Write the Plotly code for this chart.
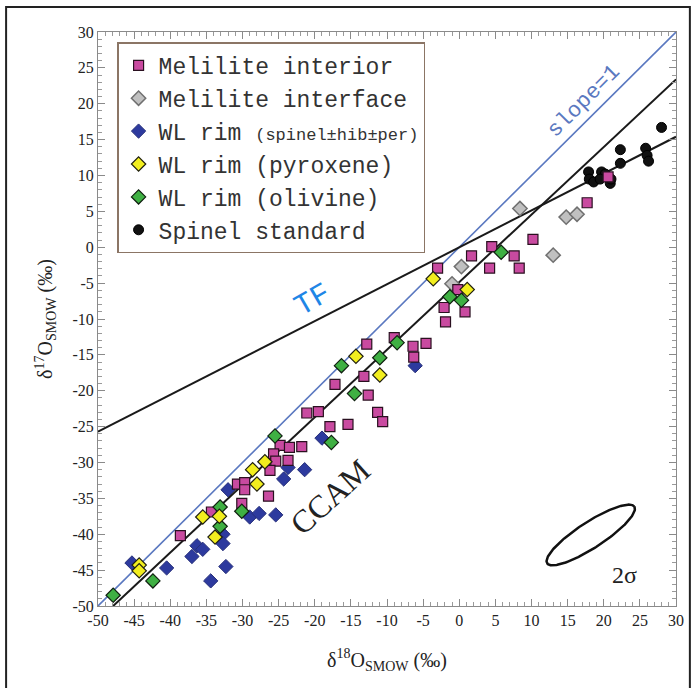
import numpy as np
import plotly.graph_objects as go

# ---------------- data ----------------
mel_int_x = [17.7, 10.2, 4.5, 1.7, 7.6, 4.2, 8.3, -3.0, -0.2, -2.1, 0.8, -1.9, -9.0, -6.4, -4.6, -6.3,
             -12.8, -13.2, -17.2, -12.6, -21.1, -19.5, -11.3, -10.6, -15.4, -17.9, -24.8, -23.5, -21.8,
             -25.7, -25.4, -23.7, -26.2, -30.7, -29.7, -29.7, -26.4, -30.1, -34.3, -38.6, 20.6]
mel_int_y = [6.2, 1.1, 0.1, -1.2, -1.2, -2.9, -2.9, -2.9, -5.9, -8.4, -9.0, -10.4, -12.6, -13.8, -13.4, -15.3,
             -13.5, -18.0, -19.1, -20.6, -23.1, -22.9, -23.0, -24.3, -24.7, -25.0, -27.6, -27.9, -27.8,
             -28.8, -29.8, -29.7, -31.1, -33.0, -32.8, -33.8, -34.7, -35.7, -36.9, -40.2, 9.8]

mel_if_x = [8.4, 14.8, 16.3, 13.0, 0.3, -1.0]
mel_if_y = [5.4, 4.2, 4.6, -1.1, -2.7, -5.1]

sp_rim_x = [-6.1, -19.0, -23.7, -21.4, -24.3, -32.0, -29.0, -27.7, -25.4, -32.7, -32.7, -36.3, -35.5,
            -37.0, -40.5, -32.3, -45.3, -34.4]
sp_rim_y = [-16.5, -26.6, -30.7, -31.0, -32.3, -33.8, -37.6, -37.1, -37.3, -40.0, -41.3, -41.6, -42.1,
            -43.1, -44.7, -44.5, -44.0, -46.5]

px_rim_x = [-3.6, 1.1, -14.3, -11.0, -26.9, -28.6, -28.0, -35.5, -33.2, -33.8, -44.3, -44.3]
px_rim_y = [-4.4, -5.9, -15.2, -17.8, -29.9, -31.0, -33.0, -37.6, -37.5, -40.4, -44.3, -45.1]

ol_rim_x = [5.8, -1.3, 0.3, -8.6, -11.0, -16.3, -14.5, -17.7, -25.5, -33.1, -30.1, -33.1, -42.4, -47.9]
ol_rim_y = [-0.7, -6.9, -7.4, -13.3, -15.4, -16.5, -20.4, -27.2, -26.3, -36.2, -36.8, -38.9, -46.5, -48.5]

spinel_x = [28.0, 25.8, 26.0, 26.2, 22.3, 22.3, 17.9, 18.0, 18.6, 19.7, 20.2, 20.9, 19.5, 21.0]
spinel_y = [16.7, 13.8, 12.8, 12.0, 13.6, 11.7, 10.5, 9.5, 9.1, 10.5, 10.2, 8.9, 9.5, 9.5]

# reference lines (end points)
slope1_x = [-50, 30]
slope1_y = [-50, 30]
tf_x = [-50, 30]
tf_y = [-25.7, 15.4]
ccam_x = [-47.9, 30]
ccam_y = [-50, 23.4]

tick_vals = list(range(-50, 31, 5))
tick_text = [str(v) for v in tick_vals]

# ---------------- figure ----------------
fig = go.Figure()

line_black = dict(color="#1a1a1a", width=2)
fig.add_trace(go.Scatter(x=slope1_x, y=slope1_y, mode="lines",
                         line=dict(color="#5a78c0", width=1.6), showlegend=False, hoverinfo="skip"))
fig.add_trace(go.Scatter(x=tf_x, y=tf_y, mode="lines", line=line_black, showlegend=False, hoverinfo="skip"))
fig.add_trace(go.Scatter(x=ccam_x, y=ccam_y, mode="lines", line=line_black, showlegend=False, hoverinfo="skip"))

# 2-sigma ellipse (geometry, centre/axes in data units)
ell_cx, ell_cy = 18.2, -40.1
sx, sy = 7.225, 7.175          # px per unit
a_px, b_px, ang = 52, 13, np.deg2rad(33)
t = np.linspace(0, 2 * np.pi, 200)
ex_px = a_px * np.cos(t) * np.cos(ang) - b_px * np.sin(t) * np.sin(ang)
ey_px = a_px * np.cos(t) * np.sin(ang) + b_px * np.sin(t) * np.cos(ang)
fig.add_trace(go.Scatter(x=ell_cx + ex_px / sx, y=ell_cy + ey_px / sy, mode="lines",
                         line=dict(color="#111", width=2.5), showlegend=False, hoverinfo="skip"))

small = '<span style="font-size:17px">'
fig.add_trace(go.Scatter(x=spinel_x, y=spinel_y, mode="markers", name="Spinel standard", legendrank=6,
                         marker=dict(symbol="circle", size=10, color="#111111", line=dict(color="#000", width=1))))
fig.add_trace(go.Scatter(x=sp_rim_x, y=sp_rim_y, mode="markers",
                         name="WL rim " + small + "(spinel±hib±per)</span>", legendrank=3,
                         marker=dict(symbol="diamond", size=11, color="#2d3a9e", line=dict(color="#27307a", width=1))))
fig.add_trace(go.Scatter(x=mel_if_x, y=mel_if_y, mode="markers", name="Melilite interface", legendrank=2,
                         marker=dict(symbol="diamond", size=11, color="#c0c0c0", line=dict(color="#707070", width=1.5))))
fig.add_trace(go.Scatter(x=mel_int_x, y=mel_int_y, mode="markers", name="Melilite interior", legendrank=1,
                         marker=dict(symbol="square", size=10, color="#c94aa0", line=dict(color="#2a1020", width=1.2))))
fig.add_trace(go.Scatter(x=ol_rim_x, y=ol_rim_y, mode="markers", name="WL rim (olivine)", legendrank=5,
                         marker=dict(symbol="diamond", size=11, color="#3fb043", line=dict(color="#102010", width=1.2))))
fig.add_trace(go.Scatter(x=px_rim_x, y=px_rim_y, mode="markers", name="WL rim (pyroxene)", legendrank=4,
                         marker=dict(symbol="diamond", size=11, color="#f2ee1e", line=dict(color="#202010", width=1.2))))

axis_common = dict(range=[-50, 30], tickmode="array", tickvals=tick_vals, ticktext=tick_text,
                   showgrid=False, zeroline=False, showline=True, linecolor="#8a8a8a", linewidth=1,
                   mirror="ticks", ticks="inside", ticklen=7, tickcolor="#8a8a8a", tickwidth=1,
                   minor=dict(dtick=1, ticks="inside", ticklen=4, tickcolor="#9a9a9a", tickwidth=1),
                   tickfont=dict(family="Liberation Serif", size=16, color="#222"))

fig.update_xaxes(**axis_common,
                 title=dict(text="δ<sup>18</sup>O<sub>SMOW</sub> (‰)",
                            font=dict(family="Liberation Serif", size=20, color="#222"), standoff=24))
fig.update_yaxes(**axis_common,
                 title=dict(text="δ<sup>17</sup>O<sub>SMOW</sub> (‰)",
                            font=dict(family="Liberation Serif", size=20, color="#222"), standoff=14))

fig.add_annotation(x=17.3, y=20.3, text="slope=1", showarrow=False, textangle=-45,
                   font=dict(family="Liberation Mono", size=22, color="#5a78c0"))
fig.add_annotation(x=-20.2, y=-7.4, text="TF", showarrow=False, textangle=-30,
                   font=dict(family="Liberation Mono", size=30, color="#1f86e6"))
fig.add_annotation(x=-17.9, y=-34.8, text="CCAM", showarrow=False, textangle=-42,
                   font=dict(family="Liberation Serif", size=32, color="#222"))
fig.add_annotation(x=22.9, y=-45.7, text="2σ", showarrow=False,
                   font=dict(family="Liberation Serif", size=24, color="#222"))

# outer frame around the whole figure
fig.add_shape(type="rect", xref="paper", yref="paper", x0=-0.159, x1=1.024, y0=-0.16, y1=1.0436,
              line=dict(color="#222", width=2), layer="above")

fig.update_layout(
    width=697, height=688,
    margin=dict(l=98, r=21, t=32, b=82),
    paper_bgcolor="white", plot_bgcolor="white",
    showlegend=True,
    legend=dict(x=0.033, y=0.982, xanchor="left", yanchor="top",
                bgcolor="white", bordercolor="#8b7565", borderwidth=1.5,
                font=dict(family="Liberation Mono", size=23, color="#333"),
                tracegroupgap=0),
)

fig.write_html("out.html")
